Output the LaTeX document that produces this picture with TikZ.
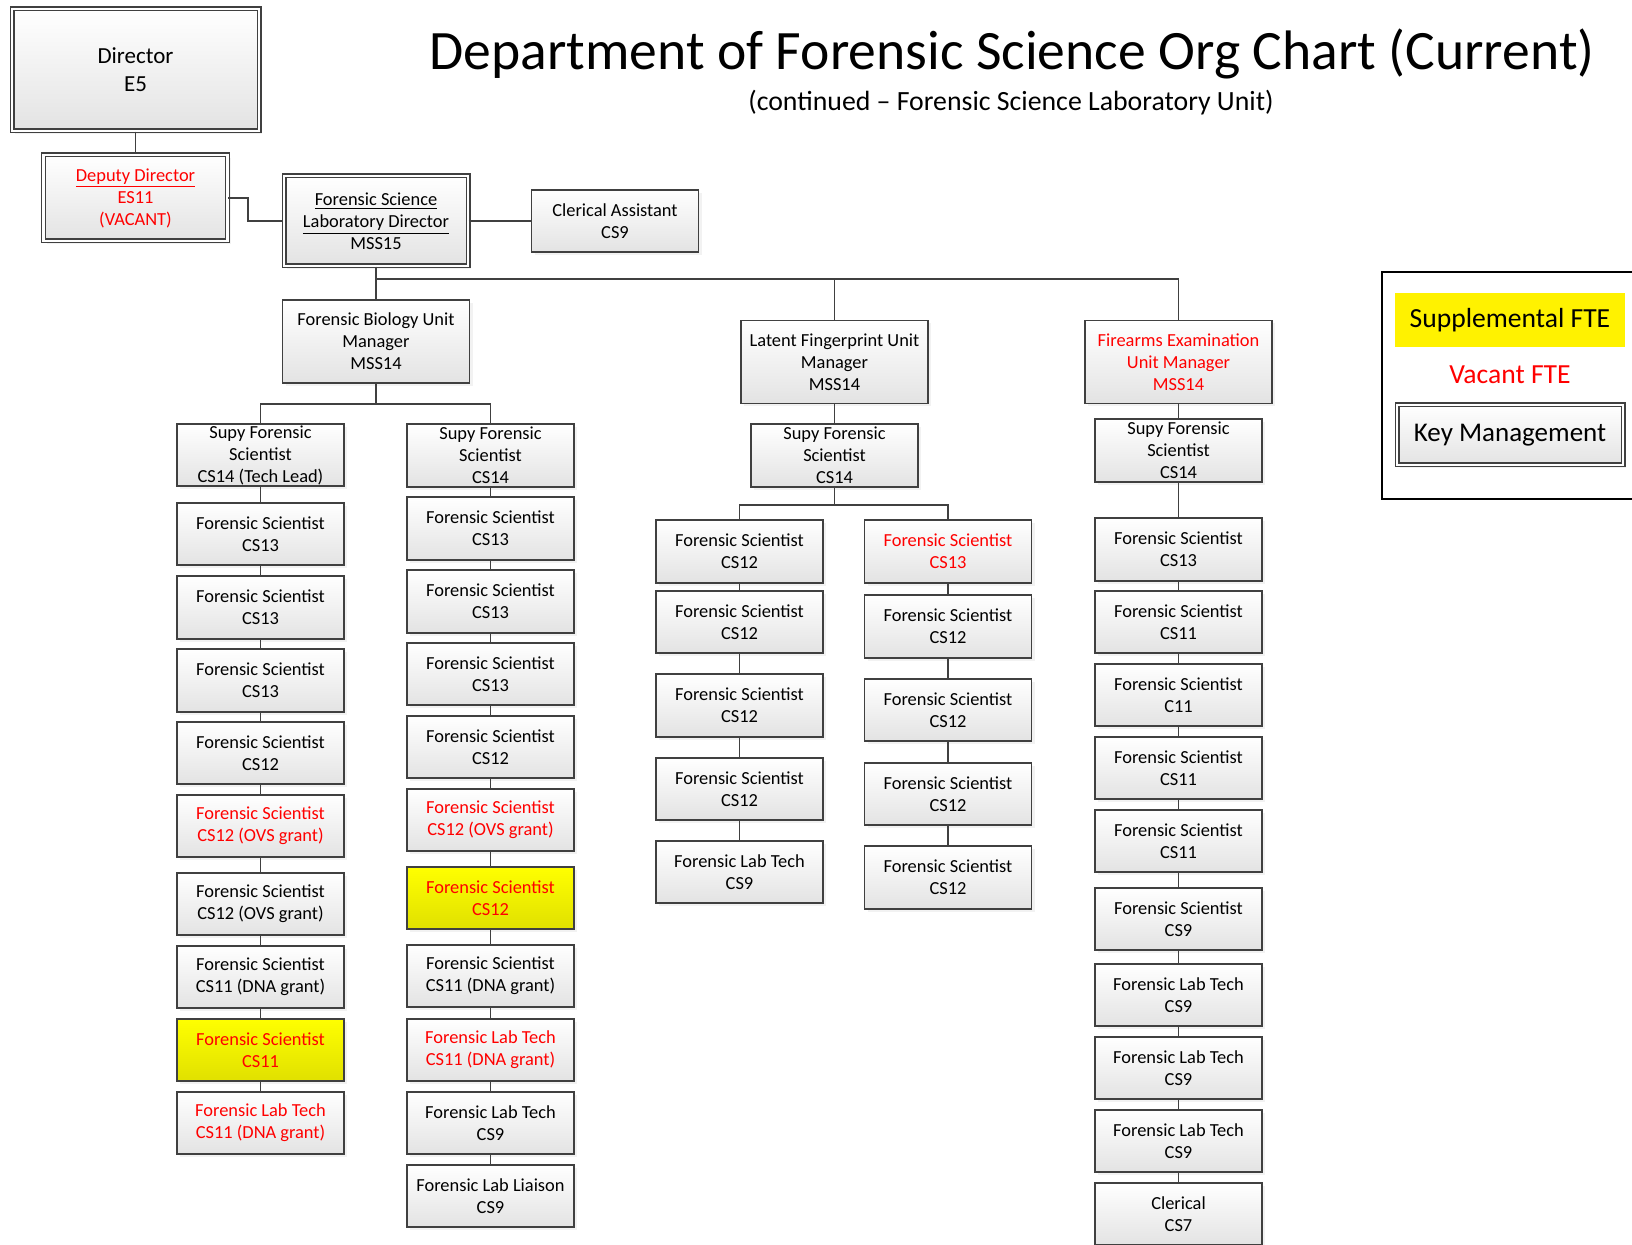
\documentclass[tikz,border=0pt]{standalone}
\usepackage{fontspec}
\setmainfont{Carlito}
\usetikzlibrary{shadows}
\definecolor{boxline}{HTML}{404040}

\begin{document}
\begin{tikzpicture}[
  x=0.5pt, y=-0.5pt,
  every node/.style={align=center,inner sep=0pt,font=\fontsize{9.2}{11}\selectfont},
  postbox/.style={draw=boxline,line width=0.9pt,top color=white,bottom color=black!11,
    minimum width=83.5pt,minimum height=31.25pt,
    drop shadow={shadow xshift=1.5pt,shadow yshift=-1.5pt,fill=black!10}},
  vacant/.style={text=red},
  supplemental/.style={top color=yellow,bottom color=yellow!88!black},
  manager/.style={postbox,minimum width=93.5pt,minimum height=41.5pt},
  keymgmt/.style={double=white,double distance=1.4pt,line width=0.55pt},
  conn/.style={draw=boxline,line width=0.9pt}
  ]
  \useasboundingbox (0,0) rectangle (1632,1245);

  \node[font=\fontsize{27.8}{33}\selectfont] (Title) at (1012,54) {Department of Forensic Science Org Chart (Current)};
  \node[font=\fontsize{13.9}{17}\selectfont] (Subtitle) at (1011,103) {(continued -- Forensic Science Laboratory Unit)};

  \node[postbox,keymgmt,font=\fontsize{11.5}{14}\selectfont,minimum width=123.5pt,minimum height=61pt] (Dir) at (135.5,70) {Director\\E5};
  \node[postbox,keymgmt,vacant,minimum width=92pt,minimum height=43pt] (Dep) at (135.5,198) {\underline{Deputy Director}\\ES11\\(VACANT)};
  \node[postbox,keymgmt,minimum width=92pt,minimum height=45pt] (FSLD) at (376,221) {\underline{Forensic Science}\\\underline{Laboratory Director}\\MSS15};
  \node[postbox] (Cler) at (615,221) {Clerical Assistant\\CS9};

  \node[manager] (Bio) at (376,341.5) {Forensic Biology Unit\\Manager\\MSS14};
  \node[manager] (Lat) at (834.5,362) {Latent Fingerprint Unit\\Manager\\MSS14};
  \node[manager,vacant] (Fire) at (1178.5,362) {Firearms Examination\\Unit Manager\\MSS14};

  \node[postbox] (BAs) at (260.5,455) {Supy Forensic\\Scientist\\CS14 (Tech Lead)};
  \node[postbox] (BA1) at (260.5,534) {Forensic Scientist\\CS13};
  \node[postbox] (BA2) at (260.5,607.5) {Forensic Scientist\\CS13};
  \node[postbox] (BA3) at (260.5,680.5) {Forensic Scientist\\CS13};
  \node[postbox] (BA4) at (260.5,753) {Forensic Scientist\\CS12};
  \node[postbox,vacant] (BA5) at (260.5,826) {Forensic Scientist\\CS12 (OVS grant)};
  \node[postbox] (BA6) at (260.5,904) {Forensic Scientist\\CS12 (OVS grant)};
  \node[postbox] (BA7) at (260.5,977) {Forensic Scientist\\CS11 (DNA grant)};
  \node[postbox,supplemental,vacant] (BA8) at (260.5,1050) {Forensic Scientist\\CS11};
  \node[postbox,vacant] (BA9) at (260.5,1123) {Forensic Lab Tech\\CS11 (DNA grant)};

  \node[postbox] (BBs) at (490.5,455.5) {Supy Forensic\\Scientist\\CS14};
  \node[postbox] (BB1) at (490.5,528.5) {Forensic Scientist\\CS13};
  \node[postbox] (BB2) at (490.5,601.5) {Forensic Scientist\\CS13};
  \node[postbox] (BB3) at (490.5,674) {Forensic Scientist\\CS13};
  \node[postbox] (BB4) at (490.5,747) {Forensic Scientist\\CS12};
  \node[postbox,vacant] (BB5) at (490.5,820) {Forensic Scientist\\CS12 (OVS grant)};
  \node[postbox,supplemental,vacant] (BB6) at (490.5,898) {Forensic Scientist\\CS12};
  \node[postbox] (BB7) at (490.5,976) {Forensic Scientist\\CS11 (DNA grant)};
  \node[postbox,vacant] (BB8) at (490.5,1050) {Forensic Lab Tech\\CS11 (DNA grant)};
  \node[postbox] (BB9) at (490.5,1123) {Forensic Lab Tech\\CS9};
  \node[postbox] (BB10) at (490.5,1196) {Forensic Lab Liaison\\CS9};

  \node[postbox] (Ls) at (834.5,455.5) {Supy Forensic\\Scientist\\CS14};
  \node[postbox] (LA1) at (739.5,551.5) {Forensic Scientist\\CS12};
  \node[postbox] (LA2) at (739.5,622) {Forensic Scientist\\CS12};
  \node[postbox] (LA3) at (739.5,705.5) {Forensic Scientist\\CS12};
  \node[postbox] (LA4) at (739.5,789) {Forensic Scientist\\CS12};
  \node[postbox] (LA5) at (739.5,872) {Forensic Lab Tech\\CS9};
  \node[postbox,vacant] (LB1) at (948,551.5) {Forensic Scientist\\CS13};
  \node[postbox] (LB2) at (948,626.5) {Forensic Scientist\\CS12};
  \node[postbox] (LB3) at (948,710) {Forensic Scientist\\CS12};
  \node[postbox] (LB4) at (948,794) {Forensic Scientist\\CS12};
  \node[postbox] (LB5) at (948,877.5) {Forensic Scientist\\CS12};

  \node[postbox] (Fs) at (1178.5,450.5) {Supy Forensic\\Scientist\\CS14};
  \node[postbox] (F1) at (1178.5,549.5) {Forensic Scientist\\CS13};
  \node[postbox] (F2) at (1178.5,622) {Forensic Scientist\\CS11};
  \node[postbox] (F3) at (1178.5,695) {Forensic Scientist\\C11};
  \node[postbox] (F4) at (1178.5,768) {Forensic Scientist\\CS11};
  \node[postbox] (F5) at (1178.5,841) {Forensic Scientist\\CS11};
  \node[postbox] (F6) at (1178.5,919) {Forensic Scientist\\CS9};
  \node[postbox] (F7) at (1178.5,995) {Forensic Lab Tech\\CS9};
  \node[postbox] (F8) at (1178.5,1068) {Forensic Lab Tech\\CS9};
  \node[postbox] (F9) at (1178.5,1141) {Forensic Lab Tech\\CS9};
  \node[postbox] (F10) at (1178.5,1214) {Clerical\\CS7};

  \draw[conn] (Dir) -- (Dep);
  \draw[conn] (Dep.east) -- ++(20,0) |- (FSLD.west);
  \draw[conn] (FSLD) -- (Cler);
  \draw[conn] (FSLD) -- (Bio);
  \coordinate (Bus) at (376,279);
  \draw[conn] (Bus) -| (Lat);
  \draw[conn] (Bus) -| (Fire);

  \coordinate (BioBus) at (376,404);
  \draw[conn] (Bio) -- (BioBus);
  \draw[conn] (BAs) |- (BioBus) -| (BBs);
  \draw[conn] (BAs) -- (BA1) -- (BA2) -- (BA3) -- (BA4) -- (BA5) -- (BA6) -- (BA7) -- (BA8) -- (BA9);
  \draw[conn] (BBs) -- (BB1) -- (BB2) -- (BB3) -- (BB4) -- (BB5) -- (BB6) -- (BB7) -- (BB8) -- (BB9) -- (BB10);

  \coordinate (LatBus) at (834.5,505);
  \draw[conn] (Lat) -- (Ls);
  \draw[conn] (Ls) -- (LatBus);
  \draw[conn] (LA1) |- (LatBus) -| (LB1);
  \draw[conn] (LA1) -- (LA2) -- (LA3) -- (LA4) -- (LA5);
  \draw[conn] (LB1) -- (LB2) -- (LB3) -- (LB4) -- (LB5);

  \draw[conn] (Fire) -- (Fs) -- (F1) -- (F2) -- (F3) -- (F4) -- (F5) -- (F6) -- (F7) -- (F8) -- (F9) -- (F10);

  \draw[line width=0.6pt] (1382,272) rectangle (1650,499);
  \node[fill=yellow,minimum width=115pt,minimum height=27pt,font=\fontsize{13.8}{16}\selectfont] (SupKey) at (1510,320) {Supplemental FTE};
  \node[vacant,font=\fontsize{13.8}{16}\selectfont] (VacKey) at (1510,375) {Vacant FTE};
  \node[postbox,keymgmt,minimum width=113pt,minimum height=30pt,font=\fontsize{13.5}{16}\selectfont] (KeyMgmt) at (1510,435) {Key Management};
\end{tikzpicture}
\end{document}
